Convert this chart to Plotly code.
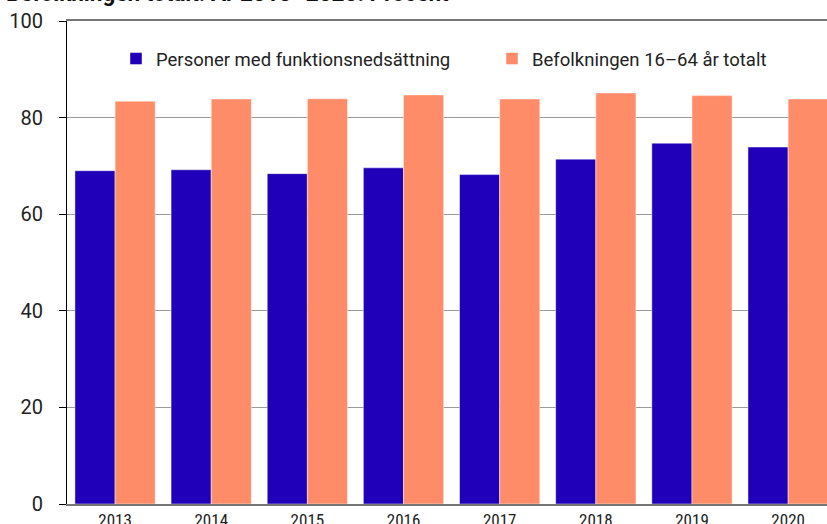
import plotly.graph_objects as go

years = ["2013", "2014", "2015", "2016", "2017", "2018", "2019", "2020"]
personer_funk = [69.0, 69.2, 68.4, 69.6, 68.2, 71.4, 74.7, 73.9]
befolkning_tot = [83.4, 83.85, 83.9, 84.7, 83.85, 85.1, 84.55, 83.85]
series_names = ["Personer med funktionsnedsättning", "Befolkningen 16–64 år totalt"]
y_ticks = [0, 20, 40, 60, 80, 100]
title_text = "Befolkningen totalt. År 2013–2020. Procent"

W, H = 827, 524
ml, mr, mt, mb = 67, 0, 21, 20
pw, ph = W - ml - mr, H - mt - mb

fig = go.Figure()
fig.add_trace(go.Bar(x=years, y=personer_funk, name=series_names[0],
                     marker=dict(color="#2000B9", line=dict(color="rgba(255,255,255,0.45)", width=1))))
fig.add_trace(go.Bar(x=years, y=befolkning_tot, name=series_names[1],
                     marker=dict(color="#FF8C69", line=dict(color="rgba(255,255,255,0.45)", width=1))))

fig.update_layout(
    width=W, height=H,
    margin=dict(l=ml, r=mr, t=mt, b=mb, pad=0, autoexpand=False),
    paper_bgcolor="white", plot_bgcolor="white",
    barmode="group", bargap=0.165, bargroupgap=0,
    font=dict(family="Roboto, sans-serif", color="#222"),
    legend=dict(orientation="h", x=(116 - ml) / pw, xanchor="left", y=1 - (59 - mt) / ph, yanchor="middle",
                font=dict(size=18.5, color="#222"), entrywidth=331, entrywidthmode="pixels",
                bgcolor="rgba(0,0,0,0)", itemclick=False),
    xaxis=dict(type="category", range=[-0.5, -0.5 + pw / 96.15], showgrid=False, automargin=False,
               showline=True, linecolor="#777", linewidth=1.5, mirror=True,
               ticks="", tickfont=dict(family="Roboto Condensed, Liberation Sans Narrow, DejaVu Sans Condensed, sans-serif", size=17, color="#222")),
    yaxis=dict(range=[0, 100], tickvals=y_ticks, showgrid=True, gridcolor="#9a9a9a", gridwidth=1,
               automargin=False,
               showline=True, linecolor="black", linewidth=1, zeroline=False,
               ticks="outside", ticklen=7, tickcolor="black", tickwidth=1,
               ticklabelstandoff=12,
               tickfont=dict(size=20, color="#222")),
)

fig.add_annotation(text="<b>" + title_text + "</b>", xref="paper", yref="paper",
                   x=(4 - ml) / pw, xanchor="left", y=1 + (mt + 7) / ph, yanchor="middle",
                   showarrow=False, font=dict(size=22.5, color="#111"))

fig.write_html("out.html", config={"displayModeBar": False},
               post_script="document.body.style.margin='0';")
